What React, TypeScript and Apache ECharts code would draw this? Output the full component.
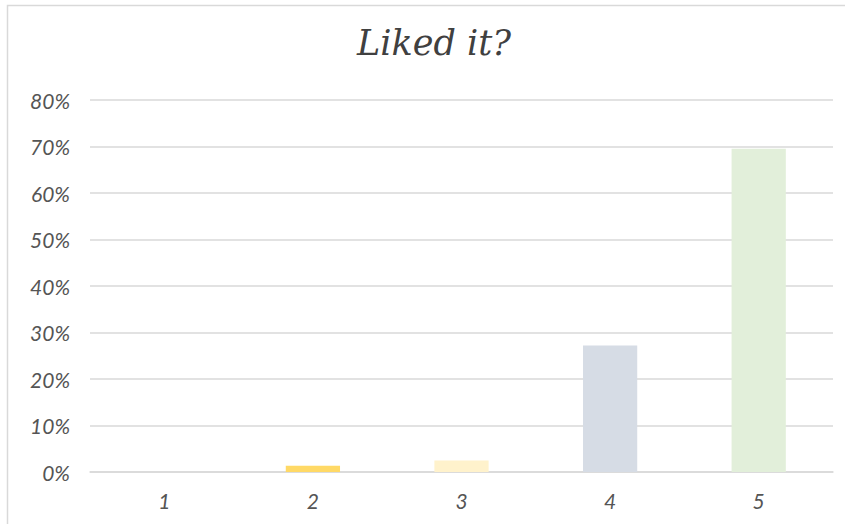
import React, { useEffect, useRef } from "react";
import * as echarts from "echarts";

const categories = ["1", "2", "3", "4", "5"];
const shares = [0, 1.35, 2.5, 27.2, 69.5];
const barColors = ["#5B9BD5", "#FFD966", "#FFF2CC", "#D6DCE5", "#E2EFDA"];
const yTicks = [0, 10, 20, 30, 40, 50, 60, 70, 80];

const labelFont = "Lato, 'Open Sans', sans-serif";

export default function App() {
  const ref = useRef<HTMLDivElement>(null);

  useEffect(() => {
    if (!ref.current) return;
    const chart = echarts.init(ref.current, null, { renderer: "svg" });
    chart.setOption({
      animation: false,
      backgroundColor: "#ffffff",
      graphic: [
        {
          type: "rect",
          shape: { x: 7.5, y: 5.5, width: 860, height: 540 },
          style: { fill: "none", stroke: "#d9d9d9", lineWidth: 1.5 },
          silent: true,
        },
        {
          type: "text",
          x: 434,
          y: 43,
          style: {
            text: "Liked it?",
            font: "italic 35px 'DejaVu Serif', serif",
            fill: "#404040",
            align: "center",
            verticalAlign: "middle",
          },
        },
      ],
      grid: { left: 90, right: 12, top: 100, bottom: 52 },
      xAxis: {
        type: "category",
        data: categories,
        axisLine: { lineStyle: { color: "#d9d9d9", width: 1.5 } },
        axisTick: { show: false },
        axisLabel: {
          color: "#555555",
          fontSize: 21,
          fontStyle: "italic",
          fontFamily: labelFont,
          margin: 18,
        },
      },
      yAxis: {
        type: "value",
        min: 0,
        max: 80,
        interval: 10,
        axisLine: { show: false },
        axisTick: { show: false },
        splitLine: { lineStyle: { color: "#d9d9d9", width: 1.5 } },
        axisLabel: {
          color: "#555555",
          fontSize: 21,
          fontStyle: "italic",
          fontFamily: labelFont,
          margin: 20,
          formatter: (v: number) => (yTicks.includes(v) ? `${v}%` : ""),
        },
      },
      series: [
        {
          type: "bar",
          data: shares.map((v, i) => ({ value: v, itemStyle: { color: barColors[i] } })),
          barWidth: "36.5%",
        },
      ],
    });
    return () => chart.dispose();
  }, []);

  return (
    <div
      ref={ref}
      style={{ position: "fixed", left: 0, top: 0, width: 845, height: 524 }}
    />
  );
}
